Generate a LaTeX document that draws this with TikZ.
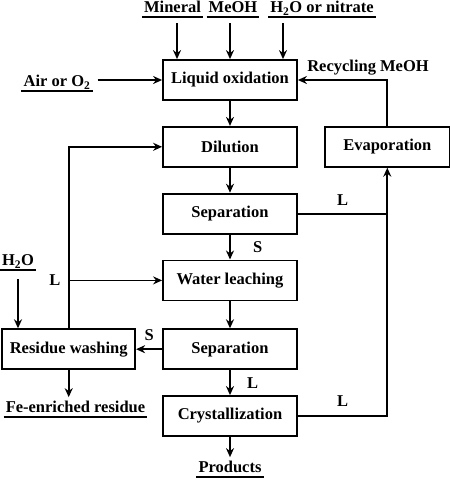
\documentclass[tikz,border=0pt]{standalone}
\usepackage{fontspec}
\setmainfont{Liberation Serif}
\usetikzlibrary{arrows.meta, positioning, calc}

\begin{document}
\begin{tikzpicture}[
    x=1pt, y=-1pt,
    node distance=25pt and 26pt,
    every node/.style={font=\fontsize{16.5}{18}\selectfont\bfseries},
    stepbox/.style={rectangle, draw, line width=1.8pt, minimum width=134pt, minimum height=40pt, align=center, inner sep=2pt},
    feed/.style={inner xsep=2pt, inner ysep=4pt, text depth=0pt, append after command={(\tikzlastnode.south west) edge[line width=1.6pt] (\tikzlastnode.south east)}},
    line/.style={line width=1.8pt},
    flow/.style={-{Stealth[length=9pt, width=8pt]}, line width=1.8pt}
]
    % Frame
    \useasboundingbox (0,0) rectangle (450,480);

    % Process steps
    \node[stepbox] (oxid) at (230,80) {Liquid oxidation};
    \node[stepbox, below=of oxid] (dilu) {Dilution};
    \node[stepbox, below=of dilu] (sep1) {Separation};
    \node[stepbox, below=of sep1] (leach) {Water leaching};
    \node[stepbox, below=27pt of leach] (sep2) {Separation};
    \node[stepbox, below=of sep2] (cryst) {Crystallization};
    \node[stepbox, minimum width=125pt, right=of dilu] (evap) {Evaporation};
    \node[stepbox, minimum width=133pt, left=of sep2] (wash) {Residue washing};

    % Inputs and outputs
    \node[feed, anchor=south] (mineral) at (172.5,17) {Mineral};
    \node[feed, anchor=south] (meoh) at (233,17) {MeOH};
    \node[feed, anchor=south] (nitrate) at (322,17) {H\textsubscript{2}O or nitrate};
    \node[feed, anchor=south] (air) at (57,91) {Air or O\textsubscript{2}};
    \node[feed, anchor=south] (water) at (18,270) {H\textsubscript{2}O};
    \node[feed, anchor=south] (fe) at (75.5,417) {Fe-enriched residue};
    \node[feed, anchor=south] (prod) at (230,477) {Products};
    \node (recyc) at (368,68) {Recycling MeOH};

    % Feed arrows
    \coordinate (inA) at ($(oxid.north)+(-53,0)$);
    \coordinate (inC) at ($(oxid.north)+(53,0)$);
    \draw[flow] (inA |- mineral.south) ++(0,6) -- (inA);
    \draw[flow] (oxid.north |- meoh.south) ++(0,6) -- (oxid.north);
    \draw[flow] (inC |- nitrate.south) ++(0,6) -- (inC);
    \draw[flow] (air.east |- oxid.west) ++(5,0) -- (oxid.west);

    % Main flow
    \draw[flow] (oxid) -- (dilu);
    \draw[flow] (dilu) -- (sep1);
    \draw[flow] (sep1) -- (leach) node[midway, right=19pt] {S};
    \draw[flow] (leach) -- (sep2);
    \draw[flow] (sep2) -- (cryst) node[midway, right=13pt] {L};
    \draw[flow] (sep2) -- (wash) node[midway, above=4pt] {S};
    \draw[flow] (cryst) -- (prod);
    \draw[flow] (wash) -- (wash.south |- fe.north);
    \draw[flow] (water.south) ++(0,9) -- (water.south |- wash.north);

    % Liquor recycling
    \coordinate (join) at (sep1.east -| evap.south);
    \draw[flow] (sep1.east) -| (evap.south) node[pos=0.25, above=4pt] {L};
    \draw[line] (cryst.east) -| (join) node[pos=0.25, above=5pt] {L};
    \draw[flow] (evap.north) |- (oxid.east);
    \draw[flow] (wash.north) |- (dilu.west);
    \draw[flow] (wash.north |- leach.west) -- (leach.west) node[pos=0, left=4pt] {L};
\end{tikzpicture}
\end{document}
